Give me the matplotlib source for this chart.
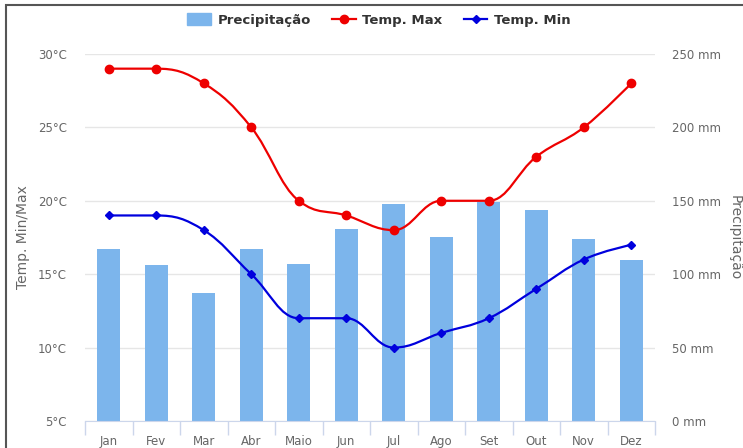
import numpy as np
import matplotlib.pyplot as plt
from matplotlib.path import Path
from matplotlib.patches import PathPatch, Rectangle
from matplotlib.lines import Line2D

# Monthly climate values
months = ['Jan', 'Fev', 'Mar', 'Abr', 'Maio', 'Jun', 'Jul', 'Ago', 'Set', 'Out', 'Nov', 'Dez']
precip = [117, 106, 87, 117, 107, 131, 148, 125, 149, 144, 124, 110]
temp_max = [29, 29, 28, 25, 20, 19, 18, 20, 20, 23, 25, 28]
temp_min = [19, 19, 18, 15, 12, 12, 10, 11, 12, 14, 16, 17]

BAR = '#7cb5ec'
RED = '#ee0000'
BLUE = '#0000dd'
GREY = '#666666'


def spline_path(xs, ys, smoothing=1.5):
    # highcharts-style smooth curve through the points
    denom = smoothing + 1
    n = len(xs)
    ctrl = []
    for i in range(n):
        px, py = xs[i], ys[i]
        if 0 < i < n - 1:
            lx, ly = xs[i - 1], ys[i - 1]
            nx, ny = xs[i + 1], ys[i + 1]
            lcx = (smoothing * px + lx) / denom
            lcy = (smoothing * py + ly) / denom
            rcx = (smoothing * px + nx) / denom
            rcy = (smoothing * py + ny) / denom
            corr = (rcy - lcy) * (rcx - px) / (rcx - lcx) + py - rcy
            lcy += corr
            rcy += corr
            if lcy > ly and lcy > py:
                lcy = max(ly, py)
                rcy = 2 * py - lcy
            elif lcy < ly and lcy < py:
                lcy = min(ly, py)
                rcy = 2 * py - lcy
            if rcy > ny and rcy > py:
                rcy = max(ny, py)
                lcy = 2 * py - rcy
            elif rcy < ny and rcy < py:
                rcy = min(ny, py)
                lcy = 2 * py - rcy
            ctrl.append(((lcx, lcy), (rcx, rcy)))
        else:
            ctrl.append(((px, py), (px, py)))
    verts = [(xs[0], ys[0])]
    codes = [Path.MOVETO]
    for i in range(1, n):
        verts += [ctrl[i - 1][1], ctrl[i][0], (xs[i], ys[i])]
        codes += [Path.CURVE4] * 3
    return Path(verts, codes)


fig = plt.figure(figsize=(7.43, 4.48), dpi=100)
ax2 = fig.add_axes([0.1144, 0.0603, 0.7672, 0.8192])
ax = ax2.twinx()
ax.set_zorder(ax2.get_zorder() + 1)
ax.patch.set_visible(False)

x = np.arange(len(months))

# precipitation bars on right axis
ax2.bar(x, precip, width=0.49, color=BAR, zorder=2)
ax2.set_ylim(0, 250)
ax2.set_xlim(-0.5, len(months) - 0.5)
ax2.yaxis.tick_right()
ax2.yaxis.set_label_position('right')
ax2.set_yticks(np.arange(0, 251, 50))
ax2.set_yticklabels([f'{v} mm' for v in range(0, 251, 50)])
ax2.grid(axis='y', color='#e6e6e6', linewidth=1, zorder=0)
ax2.set_axisbelow(True)

# temperature lines on left axis
ax.yaxis.tick_left()
ax.yaxis.set_label_position('left')
ax.set_ylim(5, 30)
ax.set_yticks(np.arange(5, 31, 5))
ax.set_yticklabels([f'{v}°C' for v in range(5, 31, 5)])
ax.add_patch(PathPatch(spline_path(x, temp_max), facecolor='none', edgecolor=RED, lw=1.6))
ax.plot(x, temp_max, linestyle='none', marker='o', ms=6, color=RED)
ax.add_patch(PathPatch(spline_path(x, temp_min), facecolor='none', edgecolor=BLUE, lw=1.6))
ax.plot(x, temp_min, linestyle='none', marker='D', ms=4.5, color=BLUE)

for a in (ax, ax2):
    for s in a.spines.values():
        s.set_visible(False)
    a.tick_params(axis='y', length=0, colors=GREY, labelsize=8.5)
ax.tick_params(axis='y', pad=13)
ax2.tick_params(axis='y', pad=12)
ax.tick_params(axis='x', length=0, labelbottom=False)

ax2.spines['bottom'].set_visible(True)
ax2.spines['bottom'].set_color('#ccd6eb')
ax2.set_xticks(x)
ax2.set_xticklabels(months)
ax2.set_xticks(np.arange(-0.5, len(months), 1), minor=True)
ax2.tick_params(axis='x', which='major', length=0, pad=10, colors=GREY, labelsize=8.5)
ax2.tick_params(axis='x', which='minor', length=10, color='#ccd6eb', width=1)

ax.set_ylabel('Temp. Min/Max', color=GREY, fontsize=10, labelpad=6)
fig.text(735 / 743, 0.47, 'Precipitação', rotation=270, color=GREY, fontsize=10,
         ha='center', va='center')

handles = [
    Rectangle((0, 0), 1, 1, color=BAR),
    Line2D([], [], color=RED, lw=1.6, marker='o', ms=6),
    Line2D([], [], color=BLUE, lw=1.6, marker='D', ms=4.5),
]
leg = fig.legend(handles, ['Precipitação', 'Temp. Max', 'Temp. Min'], loc='center',
                 bbox_to_anchor=(0.51, 0.955), ncol=3, frameon=False,
                 handlelength=1.8, handleheight=1.0, columnspacing=1.6,
                 handletextpad=0.5, prop={'weight': 'bold', 'size': 9.5})
for t in leg.get_texts():
    t.set_color('#333333')

# outer frame, partly cut off in the source
fig.add_artist(Rectangle((6 / 743, -0.1), 1.2, 1 - 5 / 448 + 0.1, transform=fig.transFigure,
                         facecolor='none', edgecolor='#555555', lw=1.5))

plt.savefig('out.png', dpi=100)
